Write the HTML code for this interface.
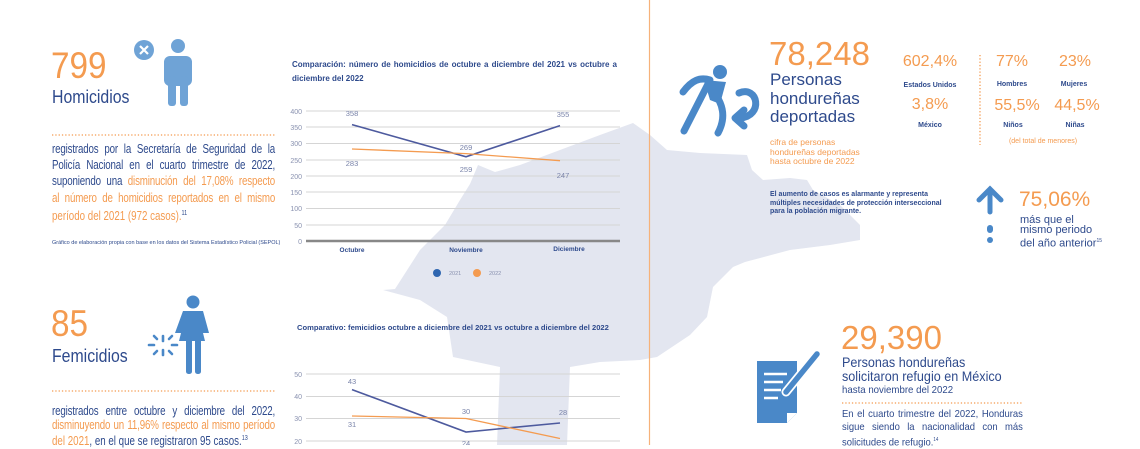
<!DOCTYPE html>
<html><head><meta charset="utf-8"><style>
body{margin:0;width:1140px;height:445px;overflow:hidden;background:#fff;font-family:"Liberation Sans",sans-serif;position:relative}
.a{position:absolute;white-space:nowrap}
.o{color:#f49b50}.n{color:#2e4a8c}
.c{position:absolute;text-align:center;transform:translateX(-50%);white-space:nowrap}
.p{position:absolute;transform-origin:0 0}
.p div{text-align:justify;text-align-last:justify}
.p div.last{text-align-last:left;word-spacing:0;letter-spacing:0}
</style></head><body>
<svg width="1140" height="445" style="position:absolute;left:0;top:0">
<polygon fill="#e3e6f0" points="383,290 395,289 420,250 445,225 460,200 470,184 478,165 495,172 520,165 560,150 600,135 633,123 650,135 667,150 700,153 747,155 752,170 763,180 790,178 807,180 813,190 840,205 860,225 860,240 830,245 790,250 745,262 733,267 713,287 707,317 690,335 657,357 640,360 600,362 570,367 567,445 497,445 500,367 453,357 447,317 420,300"/>
<line x1="649.5" y1="0" x2="649.5" y2="445" stroke="#f6b27a" stroke-width="1.2"/>
<g stroke="#d5d5d5" stroke-width="1">
<line x1="306" y1="111" x2="620" y2="111"/><line x1="306" y1="127" x2="620" y2="127"/><line x1="306" y1="143.5" x2="620" y2="143.5"/><line x1="306" y1="160" x2="620" y2="160"/><line x1="306" y1="176" x2="620" y2="176"/><line x1="306" y1="192" x2="620" y2="192"/><line x1="306" y1="208.5" x2="620" y2="208.5"/><line x1="306" y1="225" x2="620" y2="225"/>
</g>
<line x1="306" y1="241" x2="620" y2="241" stroke="#888" stroke-width="2.5"/>
<g font-size="7" fill="#8a92b0" text-anchor="end">
<text x="302" y="114">400</text><text x="302" y="130">350</text><text x="302" y="146">300</text><text x="302" y="163">250</text><text x="302" y="179">200</text><text x="302" y="195">150</text><text x="302" y="211">100</text><text x="302" y="228">50</text><text x="302" y="244">0</text>
</g>
<polyline fill="none" stroke="#4d5a9e" stroke-width="1.6" points="352,124.6 466,156.8 560,125.6"/>
<polyline fill="none" stroke="#f49b50" stroke-width="1.3" points="352,149 466,153.6 560,160.7"/>
<g font-size="7.5" fill="#7a84aa" text-anchor="middle">
<text x="352" y="116">358</text><text x="352" y="166">283</text><text x="466" y="150">269</text><text x="466" y="172">259</text><text x="563" y="117">355</text><text x="563" y="178">247</text>
</g>
<g font-size="6.5" fill="#2e4a8c" font-weight="bold" text-anchor="middle">
<text x="352" y="252">Octubre</text><text x="466" y="252">Noviembre</text><text x="569" y="251">Diciembre</text>
</g>
<circle cx="437" cy="273" r="4" fill="#2f66b0"/><text x="449" y="275" font-size="5.5" fill="#8a92b0">2021</text>
<circle cx="477" cy="273" r="4" fill="#f49b50"/><text x="489" y="275" font-size="5.5" fill="#8a92b0">2022</text>
<g stroke="#d5d5d5"><line x1="306" y1="374" x2="620" y2="374"/><line x1="306" y1="396.5" x2="620" y2="396.5"/><line x1="306" y1="418.5" x2="620" y2="418.5"/><line x1="306" y1="441" x2="620" y2="441"/></g>
<g font-size="7" fill="#8a92b0" text-anchor="end"><text x="302" y="377">50</text><text x="302" y="399">40</text><text x="302" y="421">30</text><text x="302" y="444">20</text></g>
<polyline fill="none" stroke="#4d5a9e" stroke-width="1.6" points="352,389.6 466,432 560,423"/>
<polyline fill="none" stroke="#f49b50" stroke-width="1.3" points="352,416 466,418.5 560,438.5"/>
<g font-size="7.5" fill="#7a84aa" text-anchor="middle"><text x="352" y="384">43</text><text x="352" y="427">31</text><text x="466" y="414">30</text><text x="466" y="446">24</text><text x="563" y="415">28</text><text x="563" y="450">21</text></g>
<line x1="52" y1="135" x2="275" y2="135" stroke="#f49b50" stroke-width="1.3" stroke-dasharray="1.3,2"/>
<line x1="52" y1="391" x2="275" y2="391" stroke="#f49b50" stroke-width="1.3" stroke-dasharray="1.3,2"/>
<line x1="980" y1="55" x2="980" y2="145" stroke="#f49b50" stroke-width="1.3" stroke-dasharray="1.3,2"/>
<line x1="842" y1="403" x2="1023" y2="403" stroke="#f49b50" stroke-width="1.3" stroke-dasharray="1.3,2"/>
<g fill="#6fa3d6"><circle cx="178" cy="46" r="7"/><rect x="164" y="56" width="28" height="30" rx="6"/><rect x="168" y="76" width="8" height="30" rx="3"/><rect x="180" y="76" width="8" height="30" rx="3"/></g>
<circle cx="144" cy="50" r="10" fill="#6fa3d6"/><path d="M140 46l8 8M148 46l-8 8" stroke="#fff" stroke-width="2.2"/>
<g fill="#4a88c8"><circle cx="193" cy="302" r="6.5"/><path d="M183 311h20l6 22h-6l2 8h-26l2-8h-6z"/><rect x="186" y="336" width="6" height="38" rx="2.5"/><rect x="195" y="336" width="6" height="38" rx="2.5"/></g>
<g stroke="#4a88c8" stroke-width="2.6" stroke-linecap="round"><line x1="163" y1="336" x2="163" y2="341"/><line x1="163" y1="350" x2="163" y2="355"/><line x1="154" y1="345" x2="149" y2="345"/><line x1="172" y1="345" x2="177" y2="345"/><line x1="157" y1="339" x2="154" y2="336"/><line x1="169" y1="339" x2="172" y2="336"/><line x1="157" y1="351" x2="154" y2="354"/><line x1="169" y1="351" x2="172" y2="354"/></g>
<g fill="none" stroke="#4a88c8" stroke-width="7" stroke-linecap="round" stroke-linejoin="round">
<path d="M683 92 C692 80 700 77 710 80"/><path d="M708 84 L684 131"/><path d="M712 90 C724 104 726 118 718 133"/>
<path d="M739 93 C758 85 764 116 740 118"/><path d="M744 110 L735 118 L744 126"/></g>
<circle cx="720" cy="72" r="7" fill="#4a88c8"/><path d="M704 80 L726 82 L720 104 L710 100z" fill="#4a88c8"/>
<g stroke="#4a88c8" stroke-width="5" stroke-linecap="round" fill="none"><path d="M990 212V190M979 200l11-11 11 11"/></g>
<rect x="987" y="225" width="6" height="8" rx="3" fill="#4a88c8"/><circle cx="990" cy="240" r="3" fill="#4a88c8"/>
<path d="M757 361h40v52l-10 10h-30z" fill="#4a88c8"/><path d="M787 423l10-10h-10z" fill="#fff"/>
<g stroke="#fff" stroke-width="2.5"><line x1="764" y1="374" x2="787" y2="374"/><line x1="764" y1="382" x2="783" y2="382"/><line x1="764" y1="390" x2="781" y2="390"/><line x1="764" y1="398" x2="778" y2="398"/></g>
<path d="M817 354 L786 392" stroke="#fff" stroke-width="9" stroke-linecap="round"/>
<path d="M817 354 L786 392" stroke="#4a88c8" stroke-width="5.5" stroke-linecap="round"/>
</svg>

<div class="a o" style="left:51px;top:45px;font-size:37px;transform:scaleX(.9);transform-origin:0 0">799</div>
<div class="a n" style="left:52px;top:87px;font-size:18px;transform:scaleX(.88);transform-origin:0 0">Homicidios</div>
<div class="p n" style="left:52px;top:141px;width:286px;font-size:12.5px;line-height:16.2px;letter-spacing:-.2px;word-spacing:-2px;transform:scaleX(.78)">
<div>registrados por la Secretaría de Seguridad de la</div>
<div>Policía Nacional en el cuarto trimestre de 2022,</div>
<div>suponiendo una <span class="o">disminución del 17,08% respecto</span></div>
<div class="o">al número de homicidios reportados en el mismo</div>
<div class="last o">período del 2021 (972 casos).<sup class="n" style="font-size:7px">11</sup></div>
</div>
<div class="a n" style="left:52px;top:240px;font-size:5.5px">Gráfico de elaboración propia con base en los datos del Sistema Estadístico Policial (SEPOL)</div>
<div class="a n" style="left:292px;top:58px;font-size:8px;font-weight:bold;line-height:14px;white-space:normal;width:325px;text-align:justify">Comparación: número de homicidios de octubre a diciembre del 2021 vs octubre a diciembre del 2022</div>
<div class="a n" style="left:297px;top:323px;font-size:7.6px;font-weight:bold">Comparativo: femicidios octubre a diciembre del 2021 vs octubre a diciembre del 2022</div>

<div class="a o" style="left:51px;top:303px;font-size:37px;transform:scaleX(.9);transform-origin:0 0">85</div>
<div class="a n" style="left:52px;top:346px;font-size:18px;transform:scaleX(.88);transform-origin:0 0">Femicidios</div>
<div class="p n" style="left:52px;top:404px;width:286px;font-size:12.5px;line-height:14.2px;letter-spacing:-.2px;word-spacing:-2px;transform:scaleX(.78)">
<div>registrados entre octubre y diciembre del 2022,</div>
<div class="o">disminuyendo un 11,96% respecto al mismo período</div>
<div class="last"><span class="o">del 2021</span>, en el que se registraron 95 casos.<sup style="font-size:7px">13</sup></div>
</div>

<div class="a o" style="left:769px;top:35px;font-size:33px">78,248</div>
<div class="a n" style="left:770px;top:71px;font-size:17px;line-height:18.5px">Personas<br>hondureñas<br>deportadas</div>
<div class="a o" style="left:770px;top:138px;font-size:8.5px;line-height:9.5px">cifra de personas<br>hondureñas deportadas<br>hasta octubre de 2022</div>
<div class="c o" style="left:930px;top:53px;font-size:16px">602,4%</div>
<div class="c n" style="left:930px;top:82px;font-size:7px;font-weight:bold">Estados Unidos</div>
<div class="c o" style="left:930px;top:96px;font-size:16px">3,8%</div>
<div class="c n" style="left:930px;top:122px;font-size:7px;font-weight:bold">México</div>
<div class="c o" style="left:1012px;top:53px;font-size:16px">77%</div>
<div class="c o" style="left:1075px;top:53px;font-size:16px">23%</div>
<div class="c n" style="left:1012px;top:81px;font-size:7px;font-weight:bold">Hombres</div>
<div class="c n" style="left:1074px;top:81px;font-size:7px;font-weight:bold">Mujeres</div>
<div class="c o" style="left:1017px;top:97px;font-size:16px">55,5%</div>
<div class="c o" style="left:1077px;top:97px;font-size:16px">44,5%</div>
<div class="c n" style="left:1013px;top:122px;font-size:7px;font-weight:bold">Niños</div>
<div class="c n" style="left:1075px;top:122px;font-size:7px;font-weight:bold">Niñas</div>
<div class="c o" style="left:1043px;top:138px;font-size:7px">(del total de menores)</div>
<div class="a n" style="left:770px;top:191px;font-size:7px;font-weight:bold;line-height:8.7px">El aumento de casos es alarmante y representa<br>múltiples necesidades de protección interseccional<br>para la población migrante.</div>
<div class="a o" style="left:1019px;top:188px;font-size:21px">75,06%</div>
<div class="a n" style="left:1020px;top:215px;font-size:11px;line-height:10.3px">más que el<br>mismo periodo<br>del año anterior<sup style="font-size:5px">15</sup></div>

<div class="a o" style="left:841px;top:319px;font-size:33px">29,390</div>
<div class="a n" style="left:842px;top:355px;font-size:14px;line-height:14px;transform:scaleX(.9);transform-origin:0 0">Personas hondureñas<br>solicitaron refugio en México</div>
<div class="a n" style="left:842px;top:384px;font-size:10.5px;transform:scaleX(.92);transform-origin:0 0">hasta noviembre del 2022</div>
<div class="p n" style="left:842px;top:408px;width:201px;font-size:10.5px;line-height:12.8px;word-spacing:-1.5px;transform:scaleX(.9)">
<div>En el cuarto trimestre del 2022, Honduras</div>
<div>sigue siendo la nacionalidad con más</div>
<div class="last">solicitudes de refugio.<sup style="font-size:5px">14</sup></div>
</div>
</body></html>
